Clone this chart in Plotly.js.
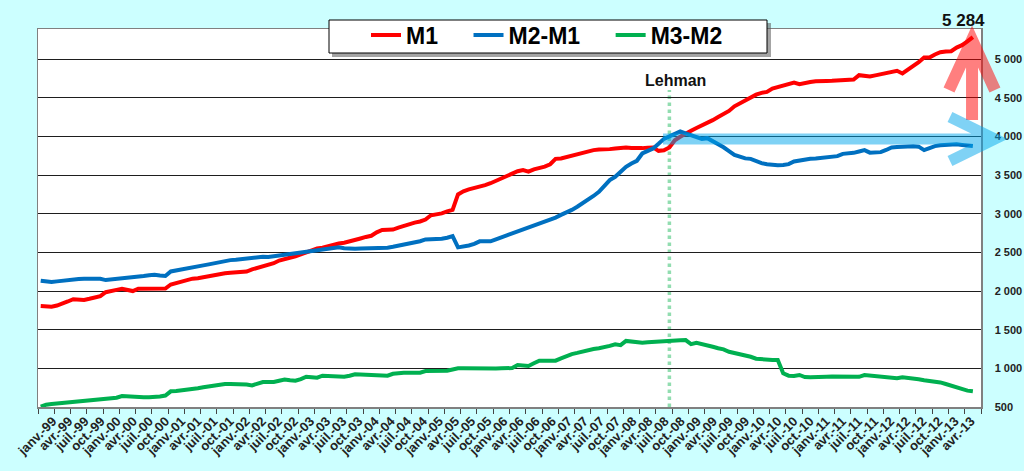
<!DOCTYPE html>
<html>
<head>
<meta charset="utf-8">
<script src="https://cdn.plot.ly/plotly-3.0.1.min.js"></script>
<style>
  html, body { margin: 0; padding: 0; background: #ccffff; }
  #chart { width: 1024px; height: 471px; }
</style>
</head>
<body>
<div id="chart"></div>
<script>
// monthly series, janv.-99 .. mai-13 (173 months)
var m1 = [
  1806,1800,1797,1812,1832,1865,1895,1885,1885,1900,1915,1935,
  1985,1995,2015,2030,2020,2000,2030,2030,2030,2030,2030,2032,
  2085,2105,2120,2135,2160,2165,2180,2185,2200,2215,2230,2237,
  2240,2250,2252,2280,2300,2323,2336,2360,2395,2410,2430,2450,
  2475,2500,2520,2550,2560,2580,2600,2615,2625,2640,2660,2680,
  2700,2715,2760,2790,2792,2795,2820,2845,2865,2885,2900,2925,
  2980,2990,3005,3030,3050,3250,3290,3315,3330,3345,3371,3395,
  3425,3455,3490,3520,3550,3565,3545,3575,3590,3610,3640,3710,
  3715,3735,3745,3775,3790,3810,3823,3830,3830,3836,3845,3855,
  3858,3852,3845,3849,3855,3858,3814,3820,3858,3950,3995,4040,
  4073,4110,4142,4170,4211,4250,4290,4330,4390,4430,4470,4495,
  4540,4564,4577,4620,4642,4660,4680,4698,4676,4695,4705,4715,
  4710,4718,4719,4725,4730,4735,4737,4793,4790,4775,4790,4805,
  4815,4830,4849,4815,4860,4900,4960,5021,5021,5060,5090,5100,
  5103,5150,5181,5230,5284
]

var m2m1 = [
  2133,2120,2116,2125,2135,2142,2148,2155,2159,2159,2159,2159,
  2142,2148,2155,2164,2170,2175,2185,2195,2205,2210,2200,2194,
  2254,2265,2280,2297,2310,2320,2332,2345,2360,2375,2390,2400,
  2405,2415,2426,2430,2435,2443,2440,2450,2460,2470,2478,2487,
  2495,2505,2515,2525,2535,2548,2560,2565,2555,2545,2548,2552,
  2555,2556,2555,2552,2560,2572,2585,2599,2610,2624,2645,2668,
  2670,2672,2676,2690,2711,2565,2575,2590,2610,2643,2643,2643,
  2670,2700,2720,2745,2770,2795,2820,2845,2870,2895,2920,2950,
  2985,3012,3050,3090,3134,3180,3230,3284,3360,3435,3478,3540,
  3607,3650,3685,3780,3810,3845,3905,3969,4000,4030,4065,4040,
  4013,3990,3969,3978,3940,3900,3860,3810,3762,3740,3716,3710,
  3680,3655,3640,3630,3629,3632,3642,3677,3690,3700,3712,3716,
  3722,3730,3737,3745,3775,3780,3788,3805,3823,3790,3792,3797,
  3825,3858,3862,3868,3875,3872,3868,3823,3850,3875,3885,3893,
  3901,3898,3890,3882,3875
]

var m3m2 = [
  505,530,539,545,550,556,562,568,574,582,592,600,
  603,607,620,642,635,628,625,625,625,625,635,648,
  703,708,714,720,730,742,755,768,782,797,797,797,
  797,797,790,780,805,823,823,823,840,855,845,840,
  860,892,885,879,905,900,895,892,892,905,923,922,
  920,918,915,910,905,930,943,943,943,943,943,965,
  965,968,970,970,985,1000,1000,998,995,991,993,995,
  998,1000,1003,1004,1043,1038,1030,1065,1099,1099,1099,1099,
  1130,1160,1185,1200,1220,1235,1250,1260,1272,1290,1311,1300,
  1355,1345,1338,1331,1338,1344,1350,1356,1362,1364,1365,1366,
  1314,1331,1318,1302,1280,1260,1246,1215,1200,1185,1172,1150,
  1125,1117,1108,1108,1108,936,905,901,914,888,884,890,
  892,892,895,892,890,888,884,890,914,908,905,901,
  895,878,871,884,878,871,858,845,840,836,818,797,
  775,745,729,712,703
]

var tickLabels = [
  "janv.-99","avr.-99","juil.-99","oct.-99",
  "janv.-00","avr.-00","juil.-00","oct.-00",
  "janv.-01","avr.-01","juil.-01","oct.-01",
  "janv.-02","avr.-02","juil.-02","oct.-02",
  "janv.-03","avr.-03","juil.-03","oct.-03",
  "janv.-04","avr.-04","juil.-04","oct.-04",
  "janv.-05","avr.-05","juil.-05","oct.-05",
  "janv.-06","avr.-06","juil.-06","oct.-06",
  "janv.-07","avr.-07","juil.-07","oct.-07",
  "janv.-08","avr.-08","juil.-08","oct.-08",
  "janv.-09","avr.-09","juil.-09","oct.-09",
  "janv.-10","avr.-10","juil.-10","oct.-10",
  "janv.-11","avr.-11","juil.-11","oct.-11",
  "janv.-12","avr.-12","juil.-12","oct.-12",
  "janv.-13","avr.-13"
]

var yTicks = [500, 1000, 1500, 2000, 2500, 3000, 3500, 4000, 4500, 5000]
var yTickLabels = ["500", "1 000", "1 500", "2 000", "2 500", "3 000", "3 500", "4 000", "4 500", "5 000"]

var lehmanMonth = 116   // sept.-08
var FONT = "Liberation Sans, Arial, sans-serif"
var PAD = "\u00a0\u00a0\u00a0\u00a0"   // room between legend entries

// plot area in pixels, used to place the drawn arrows and legend frame
var PL = 38, PR = 981, PT = 29, PB = 407
function px(x) { return (x - PL) / (PR - PL) }
function py(y) { return (PB - y) / (PB - PT) }

var months = []
for (let i = 0; i < m1.length; i++) months.push(i)

// 174 category slots (the last one empty), a tick every quarter
var labelVals = [], boundaryVals = []
for (let k = 0; k < tickLabels.length; k++) {
    labelVals.push(2.21 + 2.973 * k)
    boundaryVals.push(3 * k - 0.5)
}
boundaryVals.push(173.5)

function makeTrace(name, values, color) {
    return {
      x: months,
      y: values,
      name: name,
      mode: "lines",
      line: { color: color, width: 4 },
      hoverinfo: "skip"
    }
}

var data = [
    makeTrace("M1" + PAD, m1, "#ff0000"),
    makeTrace("M2-M1" + PAD, m2m1, "#0070c0"),
    makeTrace("M3-M2", m3m2, "#00b050")
]

function pathOf(points) {
    return points.map(function(seg) {
        return seg.map(function(p, j) {
            return (j == 0 ? "M" : "L") + px(p[0]).toFixed(4) + "," + py(p[1]).toFixed(4)
        }).join(" ")
    }).join(" ")
}

var last = m1[m1.length - 1]
var lastText = String(last).replace(/\B(?=(\d{3})+(?!\d))/g, " ")

var layout = {
  width: 1024,
  height: 471,
  paper_bgcolor: "#ccffff",
  plot_bgcolor: "#ffffff",
  margin: { l: PL, r: 1024 - PR, t: PT, b: 471 - PB },
  font: { family: FONT, color: "#1a1a1a" },
  showlegend: true,
  legend: {
    orientation: "h",
    x: px(366),
    xanchor: "left",
    y: py(35),
    yanchor: "middle",
    bgcolor: "rgba(0,0,0,0)",
    borderwidth: 0,
    font: { family: FONT, size: 23, color: "#000", weight: "bold" },
    itemwidth: 30
  },
  xaxis: {
    range: [-0.5, 173.5],
    tickmode: "array",
    tickvals: labelVals,
    ticktext: tickLabels,
    tickangle: -45,
    ticks: "",
    tickfont: { family: FONT, size: 13, color: "#222", weight: "bold" },
    showgrid: false,
    zeroline: false,
    showline: true,
    linecolor: "#808080",
    linewidth: 1.5,
    mirror: true,
    minor: {
      tickmode: "array",
      tickvals: boundaryVals,
      ticks: "outside",
      ticklen: 5,
      tickcolor: "#444",
      tickwidth: 1,
      showgrid: false
    }
  },
  yaxis: {
    side: "right",
    range: [500, 5390],
    tickmode: "array",
    tickvals: yTicks,
    ticktext: yTickLabels,
    ticks: "",
    ticklabelstandoff: 10,
    tickfont: { family: FONT, size: 11, color: "#222", weight: "bold" },
    showgrid: true,
    gridcolor: "#1e1e1e",
    gridwidth: 1,
    zeroline: false,
    showline: true,
    linecolor: "#808080",
    linewidth: 1.5,
    mirror: true
  },
  shapes: [
    {
      type: "line", xref: "x", yref: "y", layer: "below",
      x0: lehmanMonth, x1: lehmanMonth, y0: 500, y1: 4600,
      line: { color: "rgba(110,210,150,0.75)", width: 3.5, dash: "dot" }
    },
    {
      type: "rect", xref: "paper", yref: "paper", layer: "above",
      x0: px(332), x1: px(771), y0: py(57), y1: py(23),
      fillcolor: "rgba(90,90,90,0.55)", line: { width: 0 }
    },
    {
      type: "rect", xref: "paper", yref: "paper", layer: "above",
      x0: px(329), x1: px(767), y0: py(53), y1: py(20),
      fillcolor: "#ffffff", line: { color: "#000", width: 1 }
    },
    {
      type: "path", xref: "paper", yref: "paper", layer: "above",
      path: pathOf([[[972, 120], [972, 42]], [[949, 90], [972, 40], [995, 90]]]),
      line: { color: "rgba(255,0,0,0.5)", width: 12 }
    },
    {
      type: "path", xref: "paper", yref: "paper", layer: "above",
      path: pathOf([[[663, 139], [992, 139]], [[950, 117], [995, 139], [950, 161]]]),
      line: { color: "rgba(0,165,235,0.5)", width: 11 }
    }
  ],
  annotations: [
    {
      x: lehmanMonth, y: 4730, xref: "x", yref: "y",
      text: "<b>Lehman</b>", showarrow: false, xshift: 6,
      font: { family: FONT, size: 16, color: "#111" }
    },
    {
      x: m1.length - 1, y: last, xref: "x", yref: "y",
      text: "<b>" + lastText + "</b>", showarrow: false,
      xshift: -9, yshift: 17,
      font: { family: FONT, size: 17, color: "#111" }
    }
  ],
  separators: ", "
}

Plotly.newPlot("chart", data, layout, { displayModeBar: false, staticPlot: true })
</script>
</body>
</html>
